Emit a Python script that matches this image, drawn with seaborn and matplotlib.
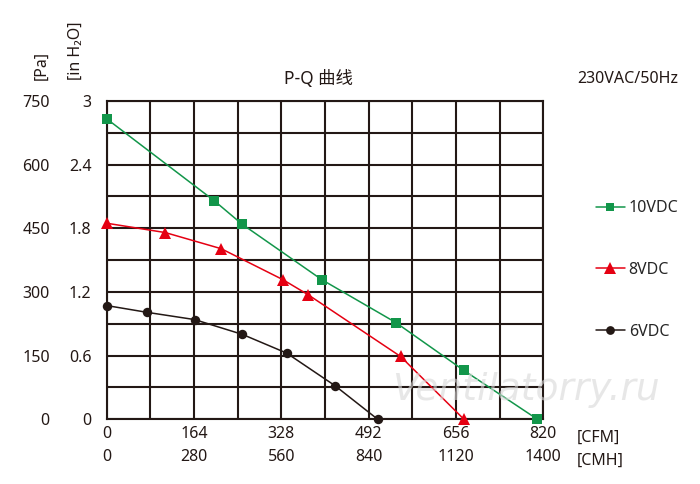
import matplotlib
matplotlib.use("Agg")
import matplotlib.pyplot as plt
import seaborn as sns
import pandas as pd

# ---- data ----
series_names = ["10VDC", "8VDC", "6VDC"]
cfm_10v = [0, 202, 254, 404, 543, 671, 809]
pa_10v = [708, 515, 460, 329, 228, 115, 0]
cfm_8v = [0, 110, 215, 331, 379, 552, 671]
pa_8v = [462, 440, 402, 329, 293, 148, 0]
cfm_6v = [0, 76, 165, 255, 338, 429, 509]
pa_6v = [268, 252, 235, 200, 156, 79, 0]

cfm_ticks = [0, 164, 328, 492, 656, 820]
cmh_labels = ["0", "280", "560", "840", "1120", "1400"]
pa_ticks = [0, 150, 300, 450, 600, 750]
inh2o_labels = ["0", "0.6", "1.2", "1.8", "2.4", "3"]

colors = {"10VDC": "#12964a", "8VDC": "#e50012", "6VDC": "#231815"}
markers = {"10VDC": "s", "8VDC": "^", "6VDC": "o"}

rows = []
for name, xs, ys in [("10VDC", cfm_10v, pa_10v), ("8VDC", cfm_8v, pa_8v), ("6VDC", cfm_6v, pa_6v)]:
    for x, y in zip(xs, ys):
        rows.append({"CFM": x, "Pa": y, "Series": name})
df = pd.DataFrame(rows)

sns.set_theme(style="white")
FS = 11.5
plt.rcParams["font.family"] = ["Noto Sans", "Noto Sans CJK SC", "DejaVu Sans"]
plt.rcParams["font.size"] = FS
plt.rcParams["xtick.labelsize"] = FS
plt.rcParams["ytick.labelsize"] = FS
plt.rcParams["legend.fontsize"] = FS

fig = plt.figure(figsize=(7, 4.84), dpi=100)
ax = fig.add_axes([106.7 / 700, 1 - 419.3 / 484, (543.3 - 106.7) / 700, (419.3 - 101) / 484])

sns.lineplot(data=df, x="CFM", y="Pa", hue="Series", style="Series",
             hue_order=series_names, style_order=series_names,
             palette=colors, markers=markers, dashes=False, sort=False,
             estimator=None, linewidth=1.1, markeredgewidth=0, ax=ax, legend="full")

sizes = {"10VDC": 6.5, "8VDC": 8.5, "6VDC": 6.8}
for line, name in zip(ax.lines, series_names):
    line.set_clip_on(False)
    line.set_zorder(5)
    line.set_markersize(sizes[name])

ax.set_xlim(0, 820)
ax.set_ylim(0, 750)
ax.set_xlabel("")
ax.set_ylabel("")

# grid
ax.set_xticks(cfm_ticks)
ax.set_xticks([82 * i for i in range(11)], minor=True)
ax.set_yticks(pa_ticks)
ax.set_yticks([75 * i for i in range(11)], minor=True)
ax.grid(True, which="both", color="#231815", linewidth=1.5)
ax.set_axisbelow(True)
for s in ax.spines.values():
    s.set_color("#231815")
    s.set_linewidth(1.5)
ax.tick_params(which="both", length=0)

ax.set_xticklabels([f"{c}\n{m}" for c, m in zip(cfm_ticks, cmh_labels)], linespacing=1.55,
                   color="#231815", fontsize=FS)
ax.tick_params(axis="x", pad=5)
ax.set_yticklabels([str(p) for p in pa_ticks], color="#231815", fontsize=FS)
ax.tick_params(axis="y", pad=41)

sec = ax.secondary_yaxis("left", functions=(lambda p: p / 250.0, lambda h: h * 250.0))
sec.set_yticks([float(v) for v in inh2o_labels])
sec.set_yticklabels(inh2o_labels, color="#231815", fontsize=FS)
sec.tick_params(length=0, pad=11)
sec.spines["left"].set_visible(False)

# legend
handles, labels = ax.get_legend_handles_labels()
for h, l in zip(handles, labels):
    h.set_markersize(sizes.get(l, 7) - 0.5)
ax.legend(handles, labels, loc="center left", bbox_to_anchor=(596 / 700, 1 - 270 / 484),
          bbox_transform=fig.transFigure, frameon=False, handlelength=1.8,
          handletextpad=0.25, labelspacing=2.85, borderpad=0, borderaxespad=0,
          fontsize=FS)

# texts
txt = "#231815"
fig.text(42 / 700, 1 - 80 / 484, "[Pa]", rotation=90, ha="center", va="bottom", color=txt)
fig.text(76 / 700, 1 - 80 / 484, "[in H₂O]", rotation=90, ha="center", va="bottom", color=txt)
fig.text(318 / 700, 1 - 79 / 484, "P-Q 曲线", ha="center", va="center", color=txt, fontsize=12.5)
fig.text(628 / 700, 1 - 79 / 484, "230VAC/50Hz", ha="center", va="center", color=txt)
fig.text(577 / 700, 1 - 438 / 484, "[CFM]", ha="left", va="center", color=txt)
fig.text(577 / 700, 1 - 461 / 484, "[CMH]", ha="left", va="center", color=txt)
fig.text(526 / 700, 1 - 390 / 484, "Ventilatorry.ru", ha="center", va="center",
         fontsize=27, style="italic", color="#d8d8d8", alpha=0.6,
         family=["DejaVu Sans"], zorder=10)

fig.savefig("out.png", dpi=100)
